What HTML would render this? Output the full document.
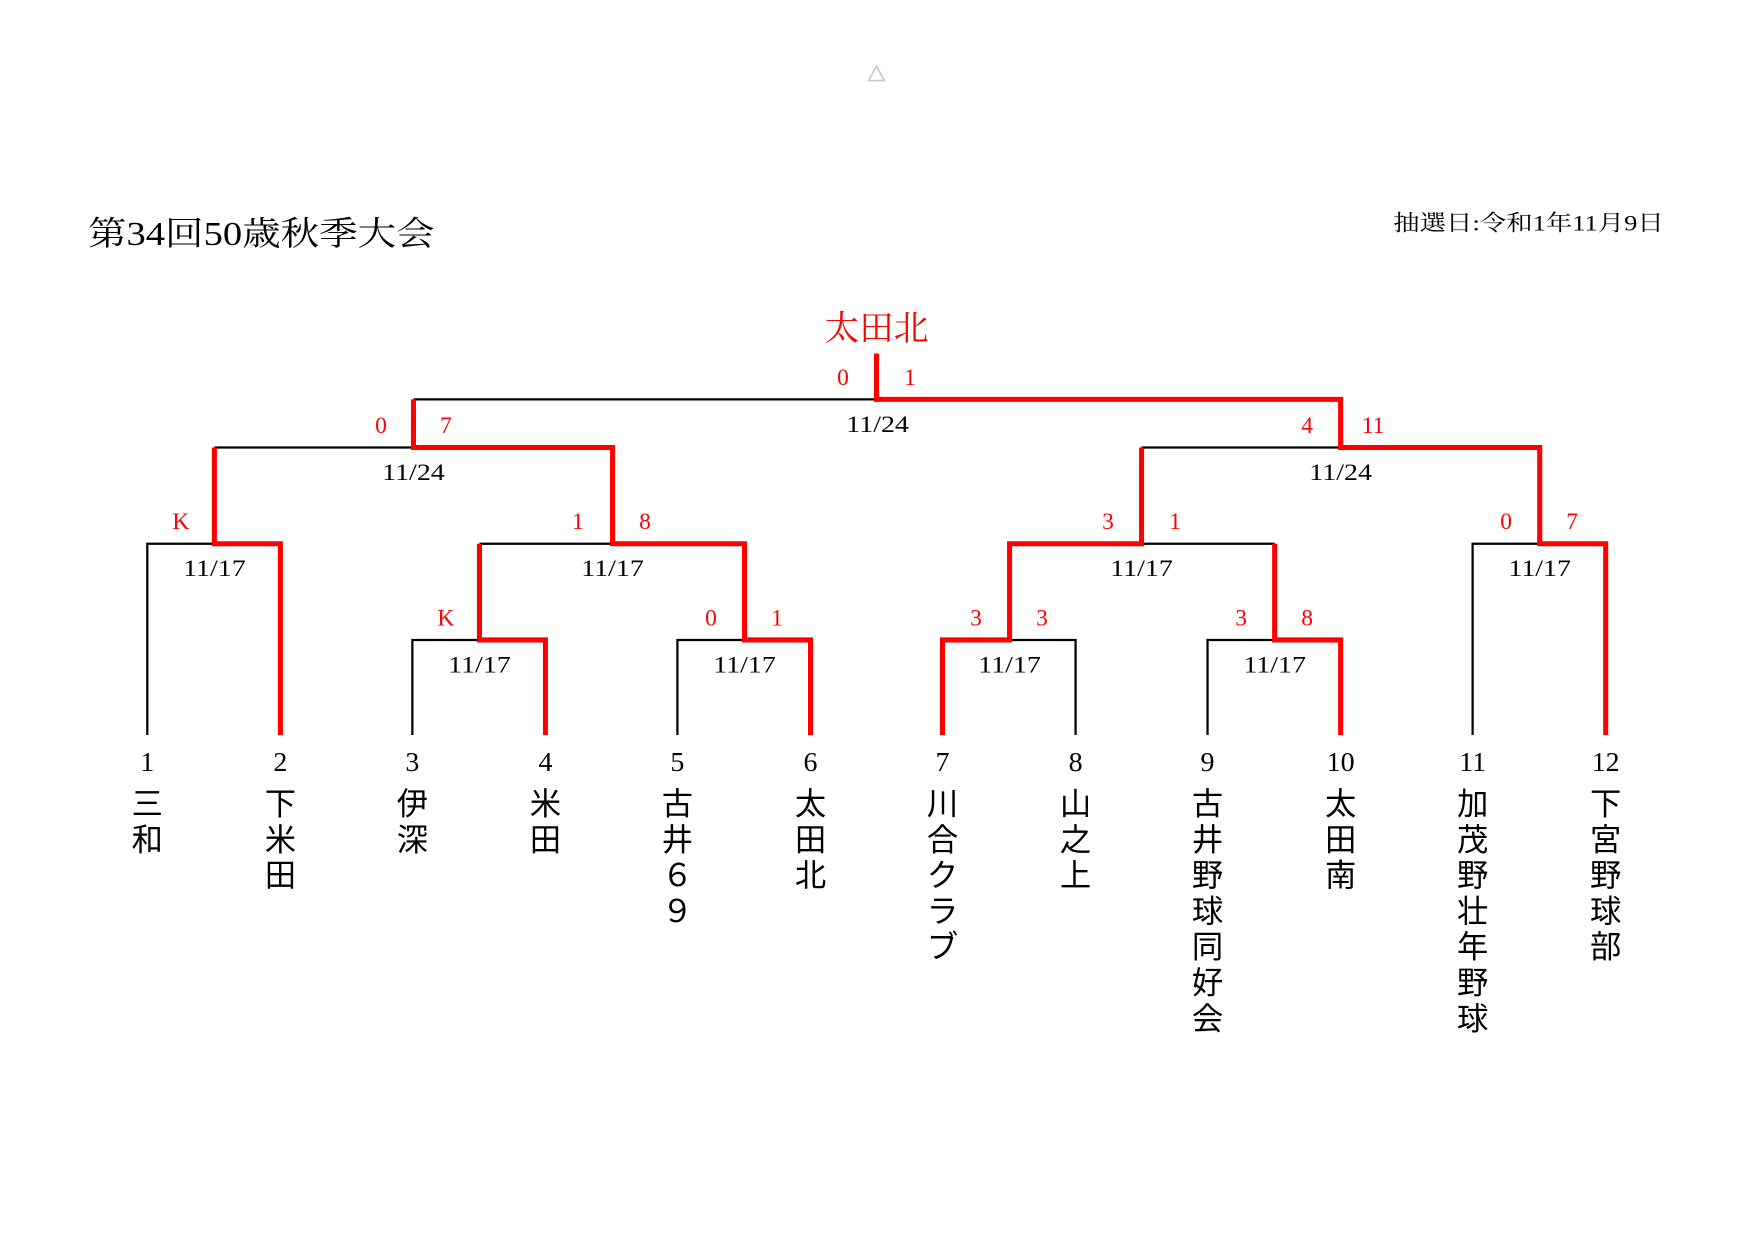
<!DOCTYPE html>
<html><head><meta charset="utf-8"><style>
html,body{margin:0;padding:0;background:#fff;}
svg{display:block;}
.s{font-family:"Liberation Serif","Noto Serif CJK SC",serif;}
.g{font-family:"Liberation Sans","Noto Sans CJK JP",sans-serif;}
</style></head><body>
<svg width="1754" height="1240" viewBox="0 0 1560 1102.8" xmlns="http://www.w3.org/2000/svg">
<g transform="matrix(0.9947 0 0 0.995 0.7 0)">
<polygon points="783,59 776,72 790,72" fill="none" stroke="#c8c8c8" stroke-width="1.5"/>
<text class="s" x="78" y="219" font-size="30" textLength="310" lengthAdjust="spacingAndGlyphs">第34回50歳秋季大会</text>
<text class="s" x="1245" y="206" font-size="20" textLength="242" lengthAdjust="spacingAndGlyphs">抽選日:令和1年11月9日</text>
<text class="s" x="783" y="304" font-size="31" fill="#ff0000" text-anchor="middle">太田北</text>

<g fill="none" stroke="#000" stroke-width="2">
<path d="M131,657V486H191"/>
<path d="M368,657V572H428"/>
<path d="M605,657V572H665"/>
<path d="M902,572H961V657"/>
<path d="M1079,657V572H1139"/>
<path d="M1316,657V486H1376"/>
<path d="M428,486H547"/>
<path d="M1020,486H1139"/>
<path d="M191,400H369"/>
<path d="M1020,400H1198"/>
<path d="M369,357H783"/>
</g>
<g fill="none" stroke="#ff0000" stroke-width="4.5" stroke-linejoin="miter">
<path d="M250,657V486H191V400"/>
<path d="M487,657V572H428V486"/>
<path d="M724,657V572H665V486H547V400H369V357"/>
<path d="M842,657V572H902V486H1020V400"/>
<path d="M1198,657V572H1139V486"/>
<path d="M1435,657V486H1376V400H1198V357H783V316"/>
</g>

<g class="s" font-size="21" fill="#ff0000" text-anchor="middle">
<text x="753" y="344">0</text><text x="813" y="344">1</text>
<text x="340" y="387">0</text><text x="398" y="387">7</text>
<text x="1168" y="387">4</text><text x="1227" y="387">11</text>
<text x="161" y="473">K</text><text x="516" y="473">1</text><text x="576" y="473">8</text>
<text x="990" y="473">3</text><text x="1050" y="473">1</text>
<text x="1346" y="473">0</text><text x="1405" y="473">7</text>
<text x="398" y="559">K</text><text x="635" y="559">0</text><text x="694" y="559">1</text>
<text x="872" y="559">3</text><text x="931" y="559">3</text>
<text x="1109" y="559">3</text><text x="1168" y="559">8</text>
</g>
<g class="s" font-size="21" fill="#000" text-anchor="middle">
<text x="784" y="386" textLength="56" lengthAdjust="spacingAndGlyphs">11/24</text>
<text x="369" y="429" textLength="56" lengthAdjust="spacingAndGlyphs">11/24</text><text x="1198" y="429" textLength="56" lengthAdjust="spacingAndGlyphs">11/24</text>
<text x="191" y="515" textLength="56" lengthAdjust="spacingAndGlyphs">11/17</text><text x="547" y="515" textLength="56" lengthAdjust="spacingAndGlyphs">11/17</text>
<text x="1020" y="515" textLength="56" lengthAdjust="spacingAndGlyphs">11/17</text><text x="1376" y="515" textLength="56" lengthAdjust="spacingAndGlyphs">11/17</text>
<text x="428" y="601" textLength="56" lengthAdjust="spacingAndGlyphs">11/17</text><text x="665" y="601" textLength="56" lengthAdjust="spacingAndGlyphs">11/17</text>
<text x="902" y="601" textLength="56" lengthAdjust="spacingAndGlyphs">11/17</text><text x="1139" y="601" textLength="56" lengthAdjust="spacingAndGlyphs">11/17</text>
</g>
<g class="s" font-size="25" fill="#000" text-anchor="middle">
<text x="131" y="689">1</text><text x="250" y="689">2</text><text x="368" y="689">3</text>
<text x="487" y="689">4</text><text x="605" y="689">5</text><text x="724" y="689">6</text>
<text x="842" y="689">7</text><text x="961" y="689">8</text><text x="1079" y="689">9</text>
<text x="1198" y="689">10</text><text x="1316" y="689">11</text><text x="1435" y="689">12</text>
</g>
<g class="g" font-size="28" fill="#000" text-anchor="middle">
<text x="131" y="728">三</text><text x="131" y="760">和</text>
<text x="250" y="728">下</text><text x="250" y="760">米</text><text x="250" y="792">田</text>
<text x="368" y="728">伊</text><text x="368" y="760">深</text>
<text x="487" y="728">米</text><text x="487" y="760">田</text>
<text x="605" y="728">古</text><text x="605" y="760">井</text><text x="605" y="792">６</text><text x="605" y="824">９</text>
<text x="724" y="728">太</text><text x="724" y="760">田</text><text x="724" y="792">北</text>
<text x="842" y="728">川</text><text x="842" y="760">合</text><text x="842" y="792">ク</text><text x="842" y="824">ラ</text><text x="842" y="856">ブ</text>
<text x="961" y="728">山</text><text x="961" y="760">之</text><text x="961" y="792">上</text>
<text x="1079" y="728">古</text><text x="1079" y="760">井</text><text x="1079" y="792">野</text><text x="1079" y="824">球</text><text x="1079" y="856">同</text><text x="1079" y="888">好</text><text x="1079" y="920">会</text>
<text x="1198" y="728">太</text><text x="1198" y="760">田</text><text x="1198" y="792">南</text>
<text x="1316" y="728">加</text><text x="1316" y="760">茂</text><text x="1316" y="792">野</text><text x="1316" y="824">壮</text><text x="1316" y="856">年</text><text x="1316" y="888">野</text><text x="1316" y="920">球</text>
<text x="1435" y="728">下</text><text x="1435" y="760">宮</text><text x="1435" y="792">野</text><text x="1435" y="824">球</text><text x="1435" y="856">部</text>
</g>
</g>
</svg>
</body></html>
